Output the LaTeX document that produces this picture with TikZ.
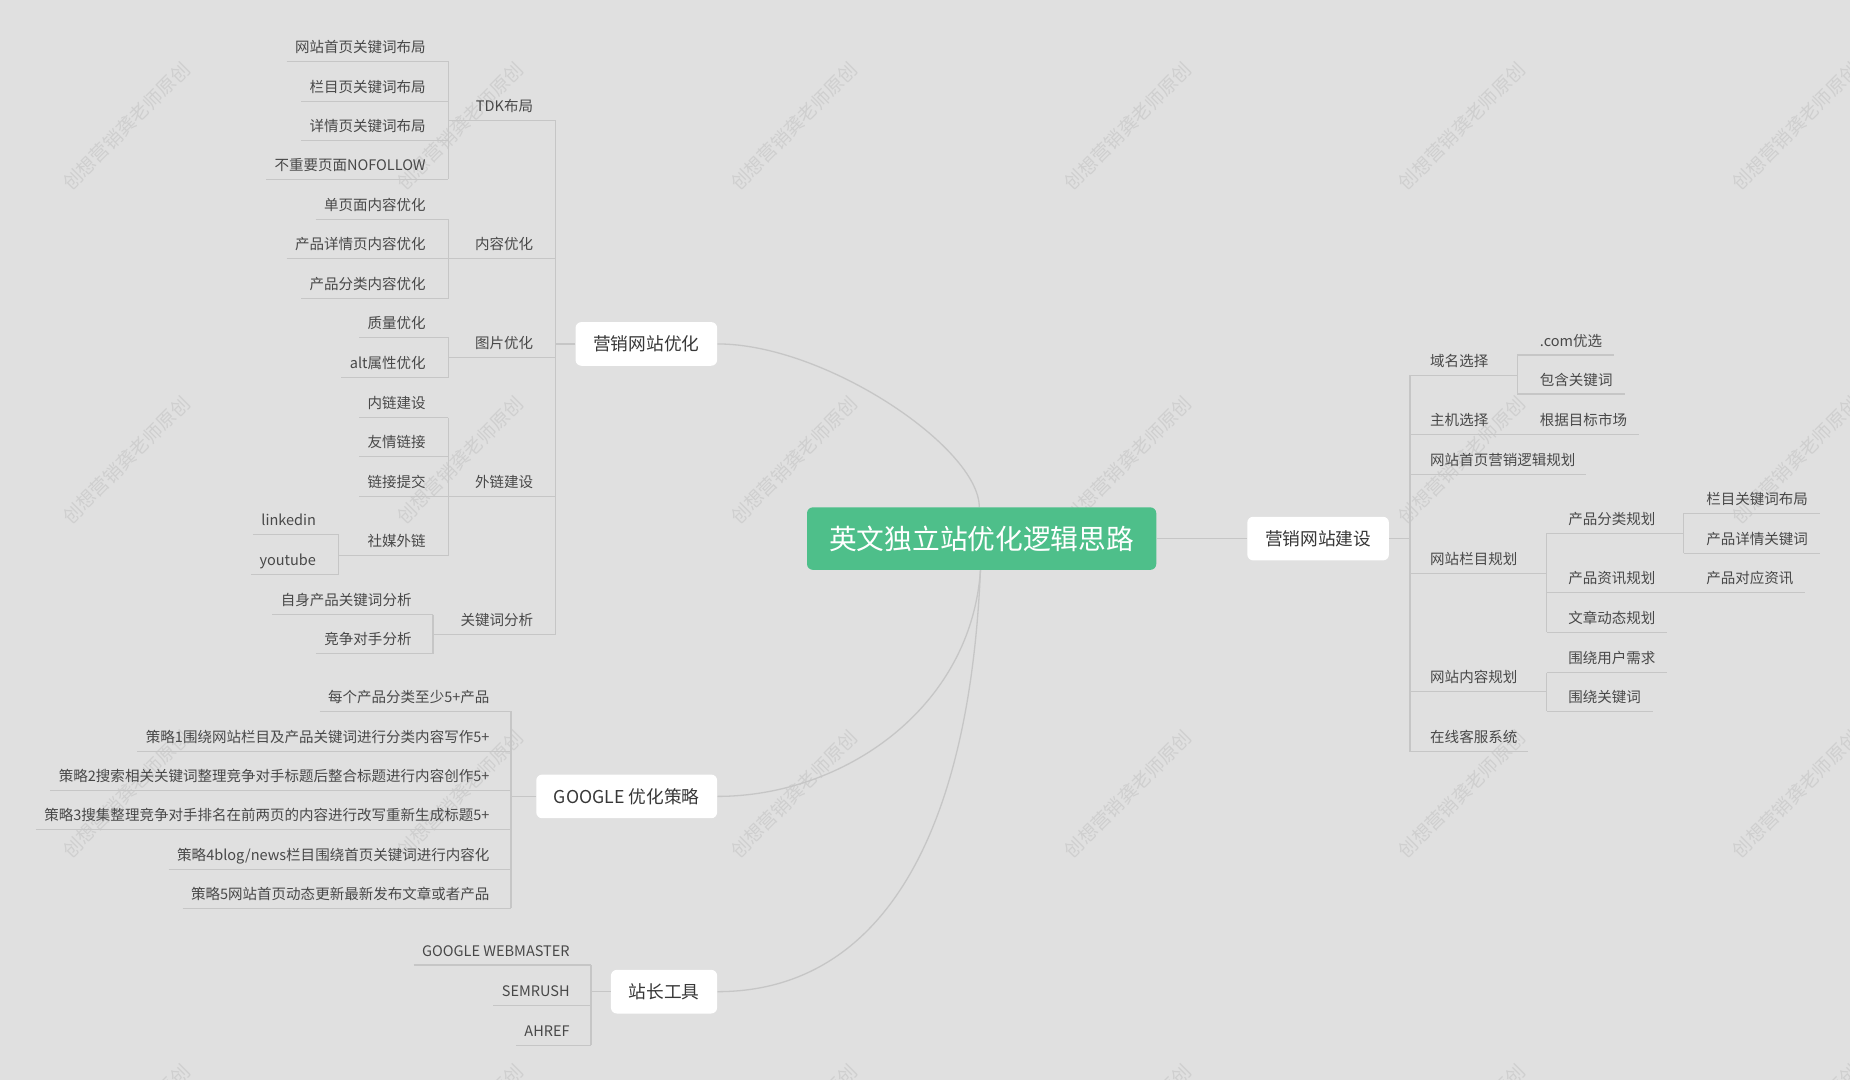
\documentclass[tikz,border=0pt]{standalone}
\usepackage{fontspec}
\setmainfont{Noto Sans CJK SC}
\usetikzlibrary{backgrounds}
\definecolor{bgc}{RGB}{224,224,224}
\definecolor{linec}{RGB}{198,198,198}
\definecolor{txt}{RGB}{72,72,72}
\definecolor{txtb}{RGB}{55,55,55}
\definecolor{wmc}{RGB}{207,207,207}
\definecolor{greenc}{RGB}{78,191,138}
\begin{document}
\begin{tikzpicture}[x=1pt,y=-1pt,
  leaf/.style={font=\fontsize{12.3}{14}\selectfont, text=txt, inner xsep=7pt, inner ysep=5.85pt, text height=10.8pt, text depth=1.5pt},
  lf/.style={leaf, anchor=south east},
  rt/.style={leaf, anchor=south west},
  ul/.style={draw=linec, line width=1.1pt},
  link/.style={draw=linec, line width=1.1pt},
  box/.style={fill=white, rounded corners=5pt, font=\fontsize{15}{18}\selectfont, text=txtb, inner xsep=15pt, inner ysep=11pt, text height=13.2pt, text depth=1.8pt},
  root/.style={fill=greenc, rounded corners=5pt, font=\fontsize{23.5}{26}\selectfont, text=white, minimum width=296pt, minimum height=53pt, inner sep=0pt, text height=20.7pt, text depth=2.8pt},
  wm/.style={font=\fontsize{16}{18}\selectfont, text=wmc, rotate=45, inner sep=0pt}
]
\useasboundingbox (0,0) rectangle (1568,915);
\begin{pgfonlayer}{background}
\fill[bgc] (0,0) rectangle (1568,915);
\begin{scope}
\clip (0,0) rectangle (1568,915);
\foreach \i in {0,...,5}{
  \foreach \j in {0,...,3}{
    \node[wm] at ({107+283*\i},{107+283*\j}) {创想营销龚老师原创};
  }
}
\end{scope}
\end{pgfonlayer}

% junction columns
\coordinate (L1) at (471,0);
\coordinate (L2) at (380,0);
\coordinate (Lsm) at (287,0);
\coordinate (Lkw) at (367,0);
\coordinate (Lg) at (433,0);
\coordinate (Lz) at (501,0);
\coordinate (R1) at (1195,0);
\coordinate (R2) at (1286,0);
\coordinate (R2b) at (1311,0);
\coordinate (R3) at (1427,0);

% root and main topics
\node[root] (ctr) at (832,456.5) {英文独立站优化逻辑思路};
\node[box, anchor=east] (sy) at (608,291.5) {营销网站优化};
\node[box, anchor=east] (gg) at (608,675) {GOOGLE 优化策略};
\node[box, anchor=east] (zz) at (608,840.5) {站长工具};
\node[box, anchor=west] (jz) at (1057,456.5) {营销网站建设};

% left: 营销网站优化
\node[lf] (a1) at (368,52) {网站首页关键词布局};
\node[lf] (a2) at (368,86) {栏目页关键词布局};
\node[lf] (a3) at (368,119) {详情页关键词布局};
\node[lf] (a4) at (368,152) {不重要页面NOFOLLOW};
\node[lf] (b1) at (368,186) {单页面内容优化};
\node[lf] (b2) at (368,219) {产品详情页内容优化};
\node[lf] (b3) at (368,253) {产品分类内容优化};
\node[lf] (c1) at (368,286) {质量优化};
\node[lf] (c2) at (368,320) {alt属性优化};
\node[lf] (d1) at (368,354) {内链建设};
\node[lf] (d2) at (368,387) {友情链接};
\node[lf] (d3) at (368,421) {链接提交};
\node[lf] (d4) at (368,471) {社媒外链};
\node[lf] (e1) at (275,453) {linkedin};
\node[lf] (e2) at (275,487) {youtube};
\node[lf] (f1) at (356,521) {自身产品关键词分析};
\node[lf] (f2) at (356,554) {竞争对手分析};
\node[lf] (pA) at (459,102) {TDK布局};
\node[lf] (pB) at (459,219) {内容优化};
\node[lf] (pC) at (459,303) {图片优化};
\node[lf] (pD) at (459,421) {外链建设};
\node[lf] (pE) at (459,538) {关键词分析};

\foreach \n in {a1,a2,a3,a4,b1,b2,b3,c1,c2,d1,d2,d3}{
  \draw[ul] (\n.south west) -- (\n.south -| L2);
}
\draw[ul] (d4.south -| Lsm) -- (d4.south -| L2);
\foreach \n in {e1,e2}{ \draw[ul] (\n.south west) -- (\n.south -| Lsm); }
\foreach \n in {f1,f2}{ \draw[ul] (\n.south west) -- (\n.south -| Lkw); }
\foreach \n in {pA,pB,pC,pD}{ \draw[ul] (\n.south -| L2) -- (\n.south -| L1); }
\draw[ul] (pE.south -| Lkw) -- (pE.south -| L1);
\draw[ul] (a1.south -| L2) -- (a4.south -| L2);
\draw[ul] (b1.south -| L2) -- (b3.south -| L2);
\draw[ul] (c1.south -| L2) -- (c2.south -| L2);
\draw[ul] (d1.south -| L2) -- (d4.south -| L2);
\draw[ul] (e1.south -| Lsm) -- (e2.south -| Lsm);
\draw[ul] (f1.south -| Lkw) -- (f2.south -| Lkw);
\draw[ul] (pA.south -| L1) -- (pE.south -| L1);
\draw[ul] (sy.west) -- (sy.west -| L1);

% left: GOOGLE 优化策略
\node[lf] (g1) at (422,603) {每个产品分类至少5+产品};
\node[lf] (g2) at (422,637) {策略1围绕网站栏目及产品关键词进行分类内容写作5+};
\node[lf] (g3) at (422,670) {策略2搜索相关关键词整理竞争对手标题后整合标题进行内容创作5+};
\node[lf] (g4) at (422,703) {策略3搜集整理竞争对手排名在前两页的内容进行改写重新生成标题5+};
\node[lf] (g5) at (422,737) {策略4blog/news栏目围绕首页关键词进行内容化};
\node[lf] (g6) at (422,770) {策略5网站首页动态更新最新发布文章或者产品};
\foreach \n in {g1,g2,g3,g4,g5,g6}{ \draw[ul] (\n.south west) -- (\n.south -| Lg); }
\draw[ul] (g1.south -| Lg) -- (g6.south -| Lg);
\draw[ul] (gg.west) -- (gg.west -| Lg);

% left: 站长工具
\node[lf] (h1) at (490,818) {GOOGLE WEBMASTER};
\node[lf] (h2) at (490,852) {SEMRUSH};
\node[lf] (h3) at (490,886) {AHREF};
\foreach \n in {h1,h2,h3}{ \draw[ul] (\n.south west) -- (\n.south -| Lz); }
\draw[ul] (h1.south -| Lz) -- (h3.south -| Lz);
\draw[ul] (zz.west) -- (zz.west -| Lz);

% right: 营销网站建设
\node[rt] (r1) at (1205,318) {域名选择};
\node[rt] (r2) at (1205,368) {主机选择};
\node[rt] (r3) at (1205,402) {网站首页营销逻辑规划};
\node[rt] (r4) at (1205,486) {网站栏目规划};
\node[rt] (r5) at (1205,586) {网站内容规划};
\node[rt] (r6) at (1205,637) {在线客服系统};
\node[rt] (s1) at (1298,301) {.com优选};
\node[rt] (s2) at (1298,334) {包含关键词};
\node[rt] (s3) at (1298,368) {根据目标市场};
\node[rt] (t1) at (1322,452) {产品分类规划};
\node[rt] (t2) at (1322,502) {产品资讯规划};
\node[rt] (t3) at (1322,536) {文章动态规划};
\node[rt] (u1) at (1322,570) {围绕用户需求};
\node[rt] (u2) at (1322,603) {围绕关键词};
\node[rt] (v1) at (1439,435) {栏目关键词布局};
\node[rt] (v2) at (1439,469) {产品详情关键词};
\node[rt] (v3) at (1439,502) {产品对应资讯};

\draw[ul] (jz.east) -- (jz.east -| R1);
\draw[ul] (r1.south -| R1) -- (r6.south -| R1);
\foreach \n in {r1,r2}{ \draw[ul] (\n.south -| R1) -- (\n.south -| R2); }
\foreach \n in {r4,r5}{ \draw[ul] (\n.south -| R1) -- (\n.south -| R2b); }
\foreach \n in {r3,r6}{ \draw[ul] (\n.south -| R1) -- ([xshift=2pt]\n.south east); }
\foreach \n in {s1,s2,s3}{ \draw[ul] (\n.south -| R2) -- ([xshift=3pt]\n.south east); }
\draw[ul] (s1.south -| R2) -- (s2.south -| R2);
\foreach \n in {t1,t2}{ \draw[ul] (\n.south -| R2b) -- (\n.south -| R3); }
\foreach \n in {t3,u1,u2}{ \draw[ul] (\n.south -| R2b) -- ([xshift=3pt]\n.south east); }
\draw[ul] (t1.south -| R2b) -- (t3.south -| R2b);
\draw[ul] (u1.south -| R2b) -- (u2.south -| R2b);
\foreach \n in {v1,v2,v3}{ \draw[ul] (\n.south -| R3) -- ([xshift=3pt]\n.south east); }
\draw[ul] (v1.south -| R3) -- (v2.south -| R3);

% curved links from the root
\begin{pgfonlayer}{background}
\draw[link] (sy.east) .. controls +(92,0) and +(0,-50) .. ([xshift=-2pt]ctr.north);
\draw[link] ([xshift=-1pt]ctr.south) .. controls +(-8,117) and +(107,0) .. (gg.east);
\draw[link] ([xshift=-1pt]ctr.south) .. controls +(-10,237) and +(132,0) .. (zz.east);
\draw[link] (ctr.east) -- (jz.west);
\end{pgfonlayer}
\end{tikzpicture}
\end{document}
